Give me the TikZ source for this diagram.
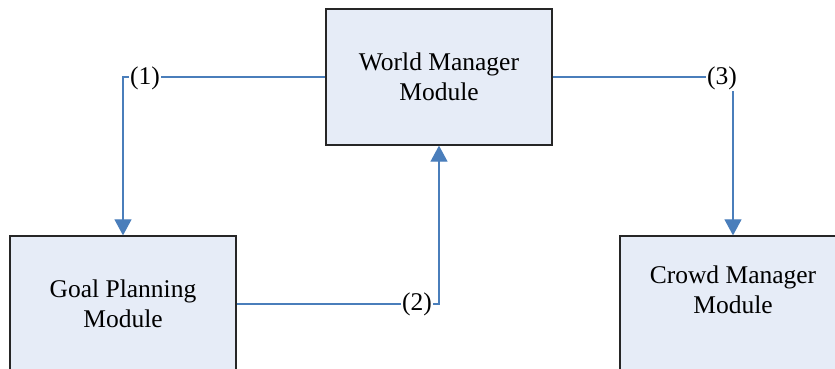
\documentclass[tikz,border=0pt]{standalone}
\usepackage{fontspec}
\setmainfont{Liberation Serif}
\usetikzlibrary{arrows.meta}
\definecolor{boxfill}{RGB}{230,236,247}
\definecolor{linkblue}{RGB}{74,126,187}
\begin{document}
\begin{tikzpicture}[x=1pt,y=-1pt,
  module/.style={draw=black!85,line width=1.3pt,fill=boxfill,minimum width=226pt,
    minimum height=136pt,inner sep=0pt,align=center,
    font=\fontsize{25.5}{30.5}\selectfont},
  link/.style={draw=linkblue,line width=1.2pt,
    -{Triangle[width=17pt,length=16pt]},color=linkblue},
  tag/.style={fill=white,inner sep=1pt,text=black,
    font=\fontsize{25.5}{30.5}\selectfont}]
\useasboundingbox (0,0) rectangle (835,368);
% module boxes
\node[module] (world) at (439,77) {World Manager\\Module};
\node[module] (goal) at (123,304) {Goal Planning\\Module};
\node[module] (crowd) at (733,304) {};
\node[align=center,inner sep=0pt,font=\fontsize{25.5}{30.5}\selectfont]
  (crowdtxt) at (733,290) {Crowd Manager\\Module};
% connectors
\coordinate (c1) at (123,77);
\coordinate (c2) at (439,304);
\coordinate (c3) at (733,77);
\draw[link] (world.west) -- (c1) -- (goal.north);
\draw[link] (goal.east) -- (c2) -- (world.south);
\draw[link] (world.east) -- (c3) -- (crowd.north);
% link labels
\node[tag] (t1) at (145,78) {(1)};
\node[tag] (t2) at (417,304) {(2)};
\node[tag] (t3) at (722,78) {(3)};
\end{tikzpicture}
\end{document}
